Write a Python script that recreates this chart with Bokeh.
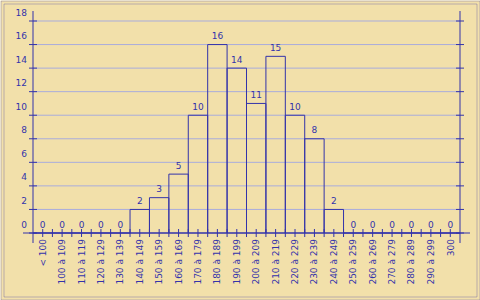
import math
from bokeh.plotting import figure
from bokeh.models import Range1d, BoxAnnotation
from bokeh.core.properties import value
from bokeh.embed import file_html
from bokeh.resources import INLINE

# ---- data ----
categories = ["< 100", "100 à 109", "110 à 119", "120 à 129", "130 à 139",
              "140 à 149", "150 à 159", "160 à 169", "170 à 179", "180 à 189",
              "190 à 199", "200 à 209", "210 à 219", "220 à 229", "230 à 239",
              "240 à 249", "250 à 259", "260 à 269", "270 à 279", "280 à 289",
              "290 à 299", "300"]
counts = [0, 0, 0, 0, 0, 2, 3, 5, 10, 16, 14, 11, 15, 10, 8, 2, 0, 0, 0, 0, 0, 0]
y_ticks = [0, 2, 4, 6, 8, 10, 12, 14, 16, 18]
y_tick_labels = [str(t) for t in y_ticks]

# ---- layout (pixels) ----
W, H = 480, 300
PLOT_LEFT_PX, PLOT_RIGHT_PX = 32.5, 459.5
ZERO_PX, TOP_TICK_PX = 232.5, 20.5
AXIS_TOP_PX = 10.5
OVERHANG_PX = 10

BLUE = "#3333AA"
GRID = "#A9ACDC"
BG = "#F2E0AA"
FONT = "DejaVu Sans"
FS = "9px"

n = len(categories)
xs = (PLOT_RIGHT_PX - PLOT_LEFT_PX) / n          # px per category
ys = (ZERO_PX - TOP_TICK_PX) / y_ticks[-1]       # px per unit
x_start = -0.5 - PLOT_LEFT_PX / xs
x_end = x_start + W / xs
y_end = ZERO_PX / ys
y_start = y_end - H / ys

p = figure(width=W, height=H, output_backend="svg", toolbar_location=None,
           x_range=Range1d(x_start, x_end), y_range=Range1d(y_start, y_end),
           x_axis_location=None, y_axis_location=None, min_border=0,
           background_fill_color=BG, border_fill_color=BG,
           outline_line_color=None)
p.xgrid.visible = False
p.ygrid.visible = False

idx = list(range(n))
left_x = -0.5
right_x = n - 0.5

# horizontal grid lines
grid_vals = y_ticks[1:]
p.segment(x0=[left_x] * len(grid_vals), x1=[right_x] * len(grid_vals),
          y0=grid_vals, y1=grid_vals, line_color=GRID, line_width=1)

# bars (outline only)
p.quad(left=[i - 0.5 for i in idx], right=[i + 0.5 for i in idx],
       bottom=[0] * n, top=counts, fill_alpha=0, line_color=BLUE, line_width=1)

# axes lines
p.segment(x0=[left_x - OVERHANG_PX / xs], x1=[right_x + OVERHANG_PX / xs],
          y0=[0], y1=[0], line_color=BLUE, line_width=1)
axis_bottom = -OVERHANG_PX / ys
axis_top = (ZERO_PX - AXIS_TOP_PX) / ys
p.segment(x0=[left_x, right_x], x1=[left_x, right_x],
          y0=[axis_bottom, axis_bottom], y1=[axis_top, axis_top],
          line_color=BLUE, line_width=1)

# y ticks (both sides)
p.scatter(x=[left_x] * len(y_ticks) + [right_x] * len(y_ticks),
          y=y_ticks + y_ticks, marker="dash", size=8,
          line_color=BLUE, line_width=1)

# x ticks at centres and boundaries
xt = idx + [i + 0.5 for i in idx[:-1]]
p.scatter(x=xt, y=[0] * len(xt), marker="dash", size=8, angle=math.pi / 2,
          line_color=BLUE, line_width=1)

# y tick labels
p.text(x=[left_x] * len(y_ticks), y=y_ticks, text=y_tick_labels,
       x_offset=-6, y_offset=-9, text_align="right", text_baseline="middle",
       text_font=value(FONT), text_font_size=FS, text_color=BLUE)

# value labels
p.text(x=idx, y=counts, text=[str(c) for c in counts],
       y_offset=-9, text_align="center", text_baseline="middle",
       text_font=value(FONT), text_font_size=FS, text_color=BLUE)

# category labels, rotated
p.text(x=idx, y=[-6 / ys] * n, text=categories, angle=math.pi / 2,
       text_align="right", text_baseline="middle",
       text_font=value(FONT), text_font_size=FS, text_color=BLUE)

# double border
for inset in (0.5, 3.5):
    p.add_layout(BoxAnnotation(left=inset, right=W - inset, top=inset, bottom=H - inset,
                               left_units="screen", right_units="screen",
                               top_units="screen", bottom_units="screen",
                               fill_alpha=0, line_color=BLUE, line_width=1))

open("out.html", "w").write(file_html(p, INLINE))
